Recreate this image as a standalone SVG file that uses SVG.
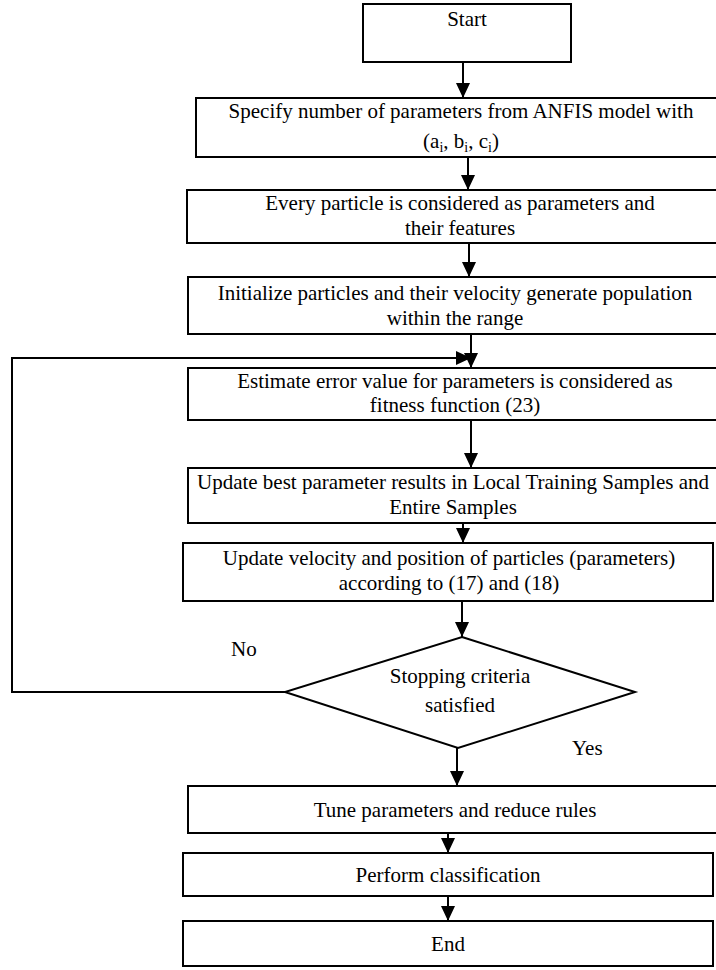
<svg xmlns="http://www.w3.org/2000/svg" width="716" height="970" viewBox="0 0 716 970">
<defs>
<marker id="ah" viewBox="0 0 15 14" refX="15" refY="7" markerWidth="15" markerHeight="14" markerUnits="userSpaceOnUse" orient="auto">
<path d="M0,0 L15,7 L0,14 Z" fill="#000"/>
</marker>
</defs>
<style>
.box{fill:#fff;stroke:#000;stroke-width:2}
.t{font-family:"Liberation Serif","Times New Roman",serif;font-size:21px;fill:#000;text-anchor:middle}
.lbl{font-family:"Liberation Serif","Times New Roman",serif;font-size:21px;fill:#000}
.c{fill:none;stroke:#000;stroke-width:2}
</style>
<rect width="716" height="970" fill="#fff"/>
<g id="start"><rect class="box" x="363" y="4" width="208" height="58"/><text class="t" x="467" y="26">Start</text></g>
<g id="specify"><rect class="box" x="196" y="98" width="530" height="59"/><text class="t" x="461" y="118">Specify number of parameters from ANFIS model with</text><text class="t" x="461" y="148">(a<tspan font-size="14" dy="4">i</tspan><tspan dy="-4">, b</tspan><tspan font-size="14" dy="4">i</tspan><tspan dy="-4">, c</tspan><tspan font-size="14" dy="4">i</tspan><tspan dy="-4">)</tspan></text></g>
<g id="every"><rect class="box" x="187" y="190" width="540" height="53"/><text class="t" x="460" y="210">Every particle is considered as parameters and</text><text class="t" x="460" y="235">their features</text></g>
<g id="init"><rect class="box" x="188" y="277" width="540" height="57"/><text class="t" x="455" y="300">Initialize particles and their velocity generate population</text><text class="t" x="455" y="325">within the range</text></g>
<g id="estimate"><rect class="box" x="188" y="368" width="540" height="52"/><text class="t" x="455" y="388">Estimate error value for parameters is considered as</text><text class="t" x="455" y="412">fitness function (23)</text></g>
<g id="updatebest"><rect class="box" x="188" y="468" width="540" height="55"/><text class="t" x="453" y="489">Update best parameter results in Local Training Samples and</text><text class="t" x="453" y="514">Entire Samples</text></g>
<g id="updatevel"><rect class="box" x="183" y="543" width="530" height="58"/><text class="t" x="449" y="565">Update velocity and position of particles (parameters)</text><text class="t" x="449" y="590">according to (17) and (18)</text></g>
<g id="decision"><polygon class="box" points="462,637 635,692 458,748 285,692"/><text class="t" x="460" y="683">Stopping criteria</text><text class="t" x="460" y="712">satisfied</text></g>
<g id="tune"><rect class="box" x="188" y="786" width="540" height="47"/><text class="t" x="455" y="817">Tune parameters and reduce rules</text></g>
<g id="perform"><rect class="box" x="183" y="853" width="530" height="43"/><text class="t" x="448" y="882">Perform classification</text></g>
<g id="end"><rect class="box" x="183" y="921" width="530" height="45"/><text class="t" x="448" y="951">End</text></g>
<g id="connectors">
<line class="c" x1="463" y1="62" x2="463" y2="98" marker-end="url(#ah)"/>
<line class="c" x1="468" y1="157" x2="468" y2="190" marker-end="url(#ah)"/>
<line class="c" x1="469" y1="243" x2="469" y2="277" marker-end="url(#ah)"/>
<line class="c" x1="471" y1="334" x2="471" y2="368" marker-end="url(#ah)"/>
<line class="c" x1="471" y1="420" x2="471" y2="468" marker-end="url(#ah)"/>
<line class="c" x1="463" y1="523" x2="463" y2="543" marker-end="url(#ah)"/>
<line class="c" x1="462" y1="601" x2="462" y2="637" marker-end="url(#ah)"/>
<line class="c" x1="457" y1="748" x2="457" y2="786" marker-end="url(#ah)"/>
<line class="c" x1="448" y1="833" x2="448" y2="853" marker-end="url(#ah)"/>
<line class="c" x1="448" y1="896" x2="448" y2="921" marker-end="url(#ah)"/>
<polyline class="c" points="285,692 12,692 12,358 471,358" marker-end="url(#ah)"/>
<text class="lbl" x="231" y="656">No</text>
<text class="lbl" x="572" y="755">Yes</text>
</g>
</svg>
